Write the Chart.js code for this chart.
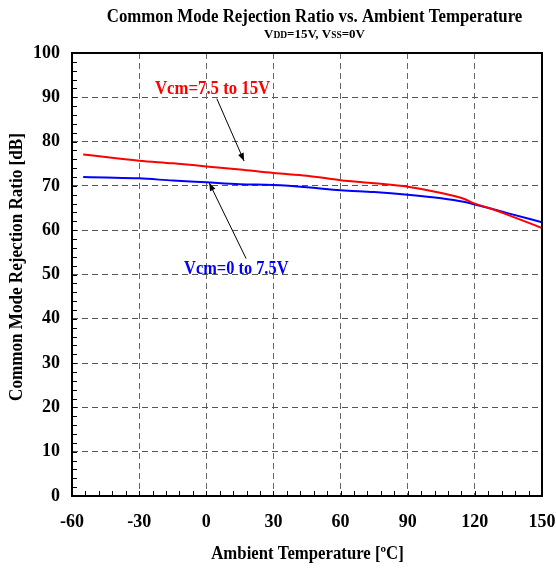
<!DOCTYPE html>
<html>
<head>
<meta charset="utf-8">
<script src="https://cdn.jsdelivr.net/npm/chart.js@4.4.0/dist/chart.umd.min.js"></script>
<style>
html,body{margin:0;padding:0;background:#fff;}
canvas{display:block;}
</style>
</head>
<body>
<canvas id="c" width="556" height="572"></canvas>
<script>
// ---- data ----
const temperatures = [-55, -45, -30, -15, 0, 15, 30, 45, 60, 75, 90, 105, 115, 120, 127, 135, 150];
const cmrrHigh = [77.1, 76.5, 75.7, 75.1, 74.4, 73.7, 72.9, 72.3, 71.3, 70.6, 69.8, 68.4, 67.1, 66.0, 64.9, 63.4, 60.5]; // Vcm=7.5 to 15V
const cmrrLow  = [72.0, 71.9, 71.7, 71.2, 70.8, 70.4, 70.2, 69.7, 69.0, 68.6, 68.0, 67.2, 66.4, 65.8, 64.9, 63.8, 61.8]; // Vcm=0 to 7.5V
const xTicks = [-60, -30, 0, 30, 60, 90, 120, 150];
const yTicks = [0, 10, 20, 30, 40, 50, 60, 70, 80, 90, 100];
const seriesLabels = ['Vcm=7.5 to 15V', 'Vcm=0 to 7.5V'];

const FONT = '"Liberation Serif", "Times New Roman", serif';

// annotation placement in data units
const notes = [
  {text: seriesLabels[0], color: '#ff0000', at: [2.8, 91.9], from: [4.7, 89.7], to: [16.9, 75.6], sx: 0.93},
  {text: seriesLabels[1], color: '#0000ff', at: [13.4, 51.2], from: [17.8, 53.6], to: [1.3, 70.7], sx: 0.91}
];

const pts = (ys) => temperatures.map((t, i) => ({x: t, y: ys[i]}));

function condensed(ctx, text, x, y, sx) {
  ctx.save();
  ctx.translate(x, y);
  ctx.scale(sx, 1);
  ctx.fillText(text, 0, 0);
  ctx.restore();
}

function arrow(ctx, x1, y1, x2, y2) {
  ctx.beginPath();
  ctx.moveTo(x1, y1);
  ctx.lineTo(x2, y2);
  ctx.stroke();
  const a = Math.atan2(y2 - y1, x2 - x1);
  const L = 8, W = 3;
  ctx.beginPath();
  ctx.moveTo(x2, y2);
  ctx.lineTo(x2 - L * Math.cos(a) + W * Math.sin(a), y2 - L * Math.sin(a) - W * Math.cos(a));
  ctx.lineTo(x2 - L * Math.cos(a) - W * Math.sin(a), y2 - L * Math.sin(a) + W * Math.cos(a));
  ctx.closePath();
  ctx.fill();
}

const decor = {
  id: 'decor',
  afterDraw(chart) {
    const ctx = chart.ctx;
    const xs = chart.scales.x, ys = chart.scales.y;
    const ca = chart.chartArea;
    ctx.save();
    // frame
    ctx.strokeStyle = '#000';
    ctx.lineWidth = 2;
    ctx.strokeRect(ca.left, ca.top, ca.right - ca.left, ca.bottom - ca.top);
    // minor ticks
    ctx.lineWidth = 1;
    ctx.beginPath();
    for (let v = 0; v <= 100; v += 2) {
      const y = Math.round(ys.getPixelForValue(v)) + 0.5;
      ctx.moveTo(ca.left, y); ctx.lineTo(ca.left + 5, y);
    }
    for (let t = -60; t <= 150; t += 6) {
      const x = Math.round(xs.getPixelForValue(t)) + 0.5;
      ctx.moveTo(x, ca.bottom); ctx.lineTo(x, ca.bottom - 5);
    }
    ctx.stroke();

    // titles
    ctx.fillStyle = '#000';
    ctx.textAlign = 'center';
    ctx.textBaseline = 'middle';
    ctx.font = 'bold 18px ' + FONT;
    condensed(ctx, 'Common Mode Rejection Ratio vs. Ambient Temperature', 314.5, 17, 0.935);

    // subtitle with small-caps subscripts
    const parts = [['V', 13], ['DD', 9.5], ['=15V, V', 13], ['SS', 9.5], ['=0V', 13]];
    let total = 0;
    parts.forEach(p => { ctx.font = 'bold ' + p[1] + 'px ' + FONT; total += ctx.measureText(p[0]).width; });
    let sx = 314.5 - total / 2;
    ctx.textAlign = 'left';
    ctx.textBaseline = 'alphabetic';
    parts.forEach(p => { ctx.font = 'bold ' + p[1] + 'px ' + FONT; ctx.fillText(p[0], sx, 37.5); sx += ctx.measureText(p[0]).width; });

    // axis titles
    ctx.textAlign = 'center';
    ctx.textBaseline = 'middle';
    ctx.font = 'bold 18px ' + FONT;
    condensed(ctx, 'Ambient Temperature [ºC]', 307.5, 554, 0.93);
    ctx.save();
    ctx.translate(17, 267);
    ctx.rotate(-Math.PI / 2);
    condensed(ctx, 'Common Mode Rejection Ratio [dB]', 0, 0, 0.95);
    ctx.restore();

    // annotations
    notes.forEach(n => {
      ctx.fillStyle = n.color;
      ctx.font = 'bold 18px ' + FONT;
      condensed(ctx, n.text, xs.getPixelForValue(n.at[0]), ys.getPixelForValue(n.at[1]), n.sx);
      ctx.strokeStyle = '#000';
      ctx.fillStyle = '#000';
      ctx.lineWidth = 1;
      arrow(ctx, xs.getPixelForValue(n.from[0]), ys.getPixelForValue(n.from[1]),
                 xs.getPixelForValue(n.to[0]), ys.getPixelForValue(n.to[1]));
    });
    ctx.restore();
  }
};

new Chart(document.getElementById('c'), {
  type: 'line',
  data: {
    datasets: [
      {label: seriesLabels[0], data: pts(cmrrHigh), borderColor: '#ff0000', borderWidth: 2, pointRadius: 0, cubicInterpolationMode: 'monotone', fill: false},
      {label: seriesLabels[1], data: pts(cmrrLow), borderColor: '#0000ff', borderWidth: 2, pointRadius: 0, cubicInterpolationMode: 'monotone', fill: false}
    ]
  },
  options: {
    responsive: false,
    animation: false,
    layout: {padding: {top: 53, right: 14, left: 0, bottom: 0}},
    plugins: {legend: {display: false}, tooltip: {enabled: false}, title: {display: false}},
    scales: {
      x: {
        type: 'linear', min: -60, max: 150,
        afterBuildTicks: (s) => { s.ticks = xTicks.map(v => ({value: v})); },
        afterFit: (s) => { s.height = 76; s.paddingLeft = 0; s.paddingRight = 0; },
        ticks: {color: '#000', font: {family: FONT, size: 18, weight: 'bold'}, padding: 16, maxRotation: 0},
        grid: {color: '#666', lineWidth: 1, drawTicks: false},
        border: {display: false, dash: [6, 4]}
      },
      y: {
        type: 'linear', min: 0, max: 100,
        afterBuildTicks: (s) => { s.ticks = yTicks.map(v => ({value: v})); },
        afterFit: (s) => { s.width = 72; s.paddingTop = 0; s.paddingBottom = 0; },
        ticks: {color: '#000', font: {family: FONT, size: 18, weight: 'bold'}, padding: 12},
        grid: {color: '#555', lineWidth: 1, drawTicks: false},
        border: {display: false, dash: [6, 4]}
      }
    }
  },
  plugins: [decor]
});
</script>
</body>
</html>
